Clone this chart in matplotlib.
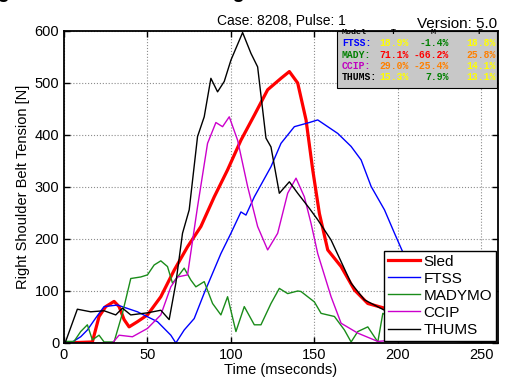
import matplotlib
matplotlib.use("Agg")
import matplotlib.pyplot as plt

plt.rcParams['font.family'] = ['Liberation Sans', 'DejaVu Sans']

# values (time in ms, force in N)
sled_t = [0, 17, 21, 25, 30, 33, 36, 39, 44, 50, 58, 66, 74, 82, 90, 98, 106, 114, 122, 130, 135, 140, 145, 149, 153,
          158, 166, 174, 182, 192, 200, 210, 220, 230, 240, 250, 258]
sled_y = [0, 2, 51, 70, 80, 70, 45, 31, 41, 54, 89, 140, 185, 224, 281, 333, 390, 438, 487, 509, 522, 500, 429, 333, 249,
          179, 147, 102, 76, 67, 55, 35, 15, 6, 4, 2, 0]

ftss_t = [0, 5, 10, 14, 19, 24, 32, 44, 56, 64, 67, 72, 78, 84, 94, 100, 106, 109, 114, 124, 130, 138, 147, 152,
          164, 172, 178, 184, 192, 198, 205, 215, 225, 235, 245, 252, 258]
ftss_y = [0, 2, 12, 25, 48, 70, 73, 60, 41, 15, 0, 25, 47, 96, 172, 211, 252, 246, 281, 339, 384, 416, 424, 429,
          403, 378, 352, 301, 256, 211, 160, 100, 50, 20, 10, 25, 55]

mady_t = [0, 6, 10, 14, 17, 21, 24, 30, 35, 40, 46, 50, 54, 58, 62, 65, 69, 72, 76, 79, 84, 89, 94, 98, 103, 108,
          114, 118, 124, 129, 134, 140, 142, 150, 154, 162, 168, 172, 176, 182, 188, 191, 200, 215, 230, 245, 258]
mady_y = [3, 3, 22, 35, 6, 15, 2, 2, 57, 124, 127, 131, 150, 158, 147, 115, 131, 144, 121, 108, 118, 76, 54, 89, 22, 70,
          35, 35, 76, 105, 95, 100, 99, 79, 57, 51, 25, 2, 22, 31, 2, 57, 40, 20, 10, 5, 5]

ccip_t = [0, 29, 33, 41, 50, 58, 64, 68, 74, 80, 86, 91, 95, 99, 104, 110, 116, 122, 128, 134, 139, 144, 148, 152,
          160, 166, 176, 188, 195, 210, 230, 250, 258]
ccip_y = [0, 0, 15, 12, 28, 54, 108, 127, 131, 262, 384, 424, 416, 435, 390, 301, 224, 179, 211, 288, 317, 281, 230, 172,
          89, 38, 19, 3, 5, 10, 5, 20, 50]

thums_t = [0, 1, 8, 16, 24, 31, 35, 40, 50, 58, 63, 67, 71, 75, 80, 84, 88, 92, 96, 100, 107, 112, 116, 121, 124,
           129, 135, 140, 147, 152, 160, 172, 180, 192, 200, 210, 220, 230, 240, 258]
thums_y = [0, 3, 65, 60, 62, 54, 67, 54, 58, 63, 45, 115, 211, 256, 397, 435, 509, 483, 503, 544, 597, 557, 531, 394, 377,
           288, 310, 288, 259, 237, 198, 115, 83, 63, 50, 30, 12, 4, 2, 1]

models = ['FTSS:', 'MADY:', 'CCIP:', 'THUMS:']
model_colors = ['blue', 'green', 'm', 'black']
table_vals = [['18.9%', '-1.4%', '18.8%'],
              ['71.1%', '-66.2%', '25.8%'],
              ['29.0%', '-25.4%', '14.1%'],
              ['15.3%', '7.9%', '13.1%']]
table_colors = [['yellow', 'green', 'yellow'],
                ['red', 'red', '#ff8000'],
                ['#ff8000', '#ff8000', 'yellow'],
                ['yellow', 'green', 'yellow']]

fig = plt.figure(figsize=(5.13, 3.83), dpi=100)
ax = fig.add_axes([64 / 513, 1 - 343 / 383, 434 / 513, 312 / 383])

ax.plot(sled_t, sled_y, color='red', lw=2.3, label='Sled')
ax.plot(ftss_t, ftss_y, color='blue', lw=1.0, label='FTSS')
ax.plot(mady_t, mady_y, color=(0.1, 0.55, 0.1), lw=1.0, label='MADYMO')
ax.plot(ccip_t, ccip_y, color=(0.8, 0, 0.8), lw=1.0, label='CCIP')
ax.plot(thums_t, thums_y, color='black', lw=1.0, label='THUMS')

ax.set_xlim(0, 260)
ax.set_ylim(0, 600)
ax.set_xticks([0, 50, 100, 150, 200, 250])
ax.set_yticks(range(0, 700, 100))
ax.grid(True, linestyle=':', color='0.55', lw=0.8)
ax.tick_params(direction='in', top=True, right=True, length=4, labelsize=10.5, width=1)
for s in ax.spines.values():
    s.set_linewidth(1.3)
ax.set_xlabel('Time (mseconds)', fontsize=10.5, labelpad=1)
ax.set_ylabel('Right Shoulder Belt Tension [N]', fontsize=10.5, labelpad=3)
ax.set_title('Case: 8208, Pulse: 1', fontsize=10, pad=4)

leg = ax.legend(loc='lower right', fontsize=11, fancybox=False, edgecolor='black', framealpha=1,
                borderpad=0.25, labelspacing=0.2, handlelength=2.1, handletextpad=0.2,
                borderaxespad=0.15)
leg.get_frame().set_linewidth(1.0)

# clipped header above the figure
fig.text(-22 / 513, 1 + 1.5 / 383, 'Right Shoulder Belt Loading', fontsize=14.2, weight='bold',
         ha='left', va='baseline')
fig.text(497 / 513, 1 - 28 / 383, 'Version: 5.0', fontsize=11, ha='right', va='baseline')

# error table box
box = plt.Rectangle((337 / 513, 1 - 88 / 383), 160 / 513, 57 / 383, transform=fig.transFigure,
                    facecolor='#c8c8c8', edgecolor='black', lw=0.8, zorder=5)
fig.add_artist(box)
mono = dict(family='Liberation Mono', fontsize=7, weight='bold', va='center', zorder=6)
row_y = [43, 55, 66, 77]
col_x = [393, 433, 480]
fig.text(342 / 513, 1 - 33 / 383, 'Model', color='black', ha='left', **dict(mono, fontsize=6))
for cx, h in zip(col_x, ['T', 'M', 'F']):
    fig.text(cx / 513, 1 - 33 / 383, h, color='black', ha='center', **dict(mono, fontsize=6))
for i, m in enumerate(models):
    fig.text(342 / 513, 1 - row_y[i] / 383, m, color=model_colors[i], ha='left', **mono)
    for j in range(3):
        fig.text((col_x[j] + 16) / 513, 1 - row_y[i] / 383, table_vals[i][j], color=table_colors[i][j],
                 ha='right', **mono)

fig.savefig('out.png', dpi=100)
